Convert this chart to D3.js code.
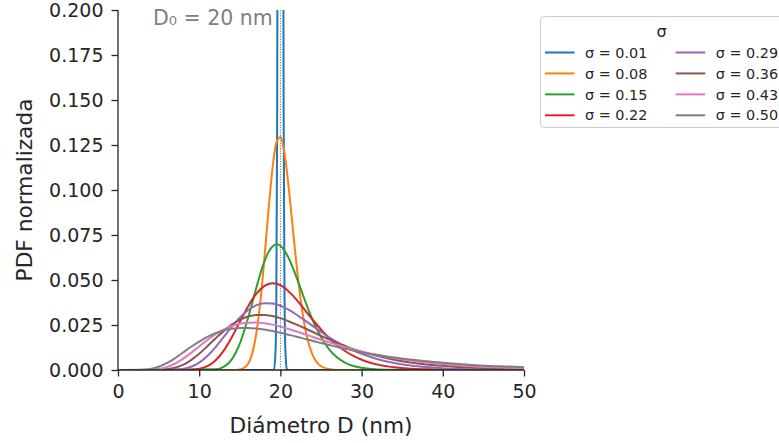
<!DOCTYPE html>
<html>
<head>
<meta charset="utf-8">
<script src="https://cdn.jsdelivr.net/npm/d3@7"></script>
<style>
  body { margin: 0; background: #fff; }
  svg { display: block; font-family: "DejaVu Sans", sans-serif; }
</style>
</head>
<body>
<script>
//data
var sigmaLabels = ['0.01', '0.08', '0.15', '0.22', '0.29', '0.36', '0.43', '0.50'];
var colors = ['#1f77b4', '#ff7f0e', '#2ca02c', '#d62728', '#9467bd', '#8c564b', '#e377c2', '#7f7f7f'];
var xTicks = [0, 10, 20, 30, 40, 50];
var yTicks = [0, 0.025, 0.05, 0.075, 0.1, 0.125, 0.15, 0.175, 0.2];
var d0 = 20;

// diameters for the very narrow curve
var dBlue = [0, 19, 19.2, 19.4, 19.5, 19.6, 19.8, 20, 20.2, 20.4, 20.5, 20.6, 20.8, 21, 50];
var pdf001 = [0, 0, 0.0003, 0.0103, 0.043, 0.137, 0.631, 1.035, 0.625, 0.143, 0.0479, 0.0127, 0.0005, 0, 0];
// diameters for the narrow curves
var dFine = [0, 12, 13, 14, 15, 16, 16.5, 17, 17.5, 18, 18.5, 19, 19.5, 20, 20.5, 21, 21.5, 22, 22.5, 23, 23.5, 24, 25, 26, 27, 28, 29, 30, 32, 34, 50];
var pdf008 = [0, 0, 0, 0, 0.0003, 0.0033, 0.0087, 0.0193, 0.0367, 0.0604, 0.087, 0.1109, 0.1262, 0.1294, 0.1204, 0.1023, 0.08, 0.0579, 0.0389, 0.0244, 0.0144, 0.008, 0.0021, 0.0005, 0, 0, 0, 0, 0, 0, 0];
var pdf015 = [0, 0.0004, 0.0017, 0.0058, 0.0146, 0.0286, 0.0367, 0.0452, 0.0531, 0.0599, 0.0652, 0.0685, 0.0698, 0.069, 0.0664, 0.0623, 0.0572, 0.0513, 0.0451, 0.0389, 0.0329, 0.0275, 0.0183, 0.0115, 0.0069, 0.004, 0.0022, 0.0012, 0.0003, 0.0001, 0];
// diameters for the wide curves
var dCoarse = [0, 2, 3, 4, 5, 6, 7, 8, 9, 10, 11, 12, 13, 14, 15, 16, 17, 18, 19, 20, 21, 22, 23, 24, 25, 26, 27, 28, 29, 30, 32, 34, 36, 38, 40, 42, 44, 46, 48, 50];
var pdf022 = [0, 0, 0, 0, 0, 0, 0, 0, 0.0001, 0.0007, 0.0021, 0.0053, 0.0106, 0.0181, 0.0267, 0.0352, 0.0421, 0.0466, 0.0482, 0.0471, 0.0437, 0.039, 0.0334, 0.0278, 0.0225, 0.0178, 0.0137, 0.0104, 0.0078, 0.0057, 0.003, 0.0015, 0.0007, 0.0004, 0.0002, 0.0001, 0, 0, 0, 0];
var pdf029 = [0, 0, 0, 0, 0, 0, 0.0002, 0.0006, 0.0018, 0.0041, 0.0078, 0.0126, 0.0182, 0.0239, 0.0291, 0.0332, 0.0359, 0.0371, 0.037, 0.0357, 0.0335, 0.0307, 0.0276, 0.0244, 0.0212, 0.0182, 0.0155, 0.013, 0.0108, 0.009, 0.006, 0.0039, 0.0025, 0.0016, 0.001, 0.0006, 0.0004, 0.0003, 0.0002, 0.0001];
var pdf036 = [0, 0, 0, 0, 0.0001, 0.0004, 0.0012, 0.0028, 0.0055, 0.009, 0.0132, 0.0175, 0.0216, 0.0252, 0.0279, 0.0297, 0.0306, 0.0306, 0.03, 0.0288, 0.0271, 0.0252, 0.0232, 0.0211, 0.019, 0.017, 0.015, 0.0133, 0.0116, 0.0102, 0.0077, 0.0057, 0.0042, 0.0031, 0.0023, 0.0016, 0.0012, 0.0009, 0.0006, 0.0005];
var pdf043 = [0, 0, 0, 0.0001, 0.0005, 0.0016, 0.0035, 0.0062, 0.0095, 0.0131, 0.0167, 0.0198, 0.0224, 0.0244, 0.0257, 0.0263, 0.0264, 0.026, 0.0252, 0.0241, 0.0228, 0.0214, 0.0199, 0.0183, 0.0168, 0.0154, 0.014, 0.0127, 0.0114, 0.0103, 0.0083, 0.0066, 0.0053, 0.0042, 0.0033, 0.0026, 0.002, 0.0016, 0.0013, 0.001];
var pdf050 = [0, 0, 0.0001, 0.0006, 0.0018, 0.0038, 0.0065, 0.0097, 0.0129, 0.0158, 0.0184, 0.0205, 0.022, 0.0229, 0.0234, 0.0234, 0.0231, 0.0225, 0.0217, 0.0207, 0.0196, 0.0185, 0.0173, 0.0161, 0.015, 0.0139, 0.0128, 0.0118, 0.0108, 0.0099, 0.0083, 0.0069, 0.0058, 0.0048, 0.004, 0.0033, 0.0027, 0.0022, 0.0019, 0.0015];
//end data

var series = [
    { x: dBlue, y: pdf001 },
    { x: dFine, y: pdf008 },
    { x: dFine, y: pdf015 },
    { x: dCoarse, y: pdf022 },
    { x: dCoarse, y: pdf029 },
    { x: dCoarse, y: pdf036 },
    { x: dCoarse, y: pdf043 },
    { x: dCoarse, y: pdf050 }
];
series.forEach(function (s, i) {
    s.label = sigmaLabels[i];
    s.color = colors[i];
    s.points = s.x.map(function (d, j) { return [d, s.y[j]]; });
});

var width = 779, height = 443;
var plot = { left: 118, right: 524, top: 10, bottom: 370 };
var ink = '#262626';

var svg = d3.select('body').append('svg')
    .attr('width', width)
    .attr('height', height);

var xScale = d3.scaleLinear().domain([0, 50]).range([plot.left, plot.right]);
var yScale = d3.scaleLinear().domain([0, 0.2]).range([plot.bottom, plot.top]);

svg.append('clipPath').attr('id', 'plotClip')
    .append('rect')
    .attr('x', plot.left).attr('y', plot.top)
    .attr('width', plot.right - plot.left)
    .attr('height', plot.bottom - plot.top);

var lineFunc = d3.line()
    .x(function (d) { return xScale(d[0]); })
    .y(function (d) { return yScale(d[1]); })
    .curve(d3.curveMonotoneX);

var gLines = svg.append('g').attr('clip-path', 'url(#plotClip)');
gLines.selectAll('path.pdf')
    .data(series)
    .enter().append('path')
    .attr('class', 'pdf')
    .attr('d', function (d) { return lineFunc(d.points); })
    .attr('fill', 'none')
    .attr('stroke', function (d) { return d.color; })
    .attr('stroke-width', 2)
    .attr('stroke-linejoin', 'round');

// dotted marker at D0
gLines.append('line')
    .attr('x1', xScale(d0)).attr('x2', xScale(d0))
    .attr('y1', yScale(0)).attr('y2', yScale(0.2))
    .attr('stroke', '#555')
    .attr('stroke-width', 1)
    .attr('stroke-dasharray', '1,1.6');

//axes
var xAxis = svg.append('g')
    .attr('transform', 'translate(0,' + plot.bottom + ')')
    .call(d3.axisBottom(xScale).tickValues(xTicks).tickFormat(d3.format('d')).tickSize(6.5).tickPadding(8));
var yAxis = svg.append('g')
    .attr('transform', 'translate(' + plot.left + ',0)')
    .call(d3.axisLeft(yScale).tickValues(yTicks).tickFormat(d3.format('.3f')).tickSize(6.5).tickPadding(8));
[xAxis, yAxis].forEach(function (ax) {
    ax.selectAll('.domain').attr('stroke', ink).attr('stroke-width', 1.3);
    ax.selectAll('.tick line').attr('stroke', ink).attr('stroke-width', 1.3);
    ax.selectAll('.tick text')
        .attr('fill', ink)
        .style('font-family', '"DejaVu Sans", sans-serif')
        .style('font-size', '19px');
});
xAxis.select('.domain').attr('d', 'M' + plot.left + ',0H' + plot.right);
yAxis.select('.domain').attr('d', 'M0,' + plot.top + 'V' + plot.bottom);

svg.append('text')
    .attr('x', (plot.left + plot.right) / 2)
    .attr('y', 432.5)
    .attr('text-anchor', 'middle')
    .attr('fill', ink)
    .style('font-size', '21.7px')
    .text('Diámetro D (nm)');

svg.append('text')
    .attr('transform', 'translate(31.5,' + (plot.top + plot.bottom) / 2 + ') rotate(-90)')
    .attr('text-anchor', 'middle')
    .attr('fill', ink)
    .style('font-size', '21.7px')
    .text('PDF normalizada');

svg.append('text')
    .attr('x', 153)
    .attr('y', 24.5)
    .attr('fill', '#808080')
    .style('font-size', '20.5px')
    .text('D\u2080 = 20 nm');

//legend
var gLegend = svg.append('g').attr('class', 'legend');
gLegend.append('rect')
    .attr('x', 540.5).attr('y', 16.5)
    .attr('width', 260).attr('height', 111)
    .attr('rx', 4)
    .attr('fill', '#fff')
    .attr('fill-opacity', 0.8)
    .attr('stroke', '#cccccc')
    .attr('stroke-width', 1);
gLegend.append('text')
    .attr('x', 661.5).attr('y', 37)
    .attr('text-anchor', 'middle')
    .attr('fill', ink)
    .style('font-size', '16px')
    .text('σ');
var rowY = d3.scaleLinear().domain([0, 3]).range([52.5, 115.3]);
var colX = [545, 675.7];
var items = gLegend.selectAll('g.item')
    .data(series)
    .enter().append('g')
    .attr('class', 'item')
    .attr('transform', function (d, i) {
    return 'translate(' + colX[Math.floor(i / 4)] + ',' + rowY(i % 4) + ')';
});
items.append('line')
    .attr('x1', 0).attr('x2', 29.5)
    .attr('stroke', function (d) { return d.color; })
    .attr('stroke-width', 2);
items.append('text')
    .attr('x', 40)
    .attr('dy', '0.36em')
    .attr('fill', ink)
    .style('font-size', '14.4px')
    .text(function (d) { return 'σ = ' + d.label; });
</script>
</body>
</html>
